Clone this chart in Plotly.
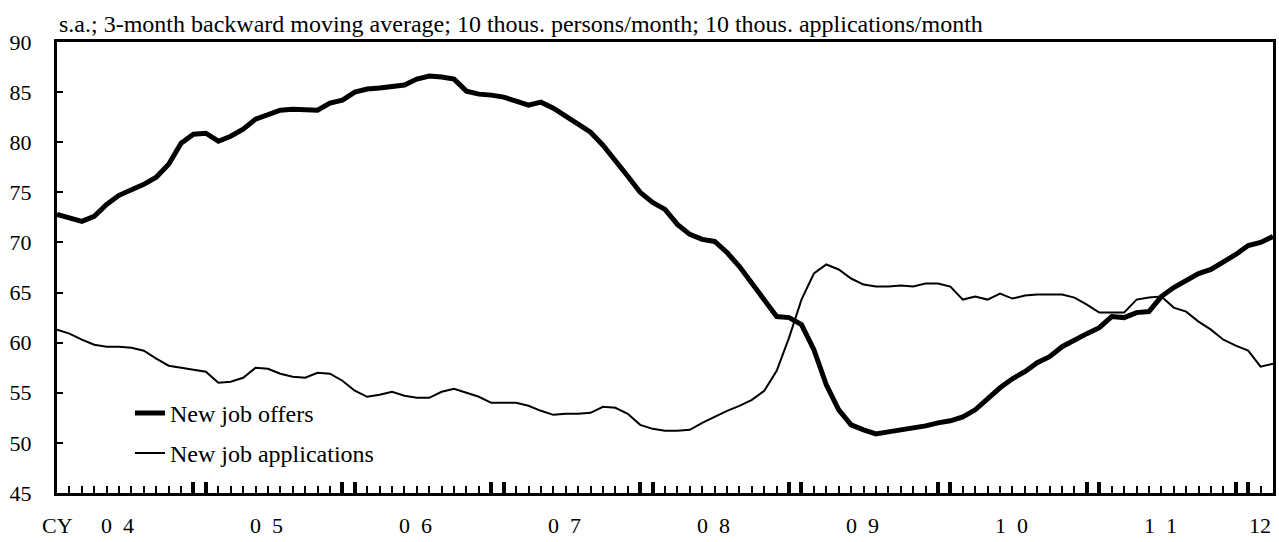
import plotly.graph_objects as go

# Monthly observations, Jan 2004 - Mar 2012 (s.a., 3-month backward moving average)
offers = [
    72.8, 72.4, 72.1, 72.6, 73.8, 74.7, 75.2, 75.8, 76.5, 77.8, 79.9, 80.8,   # 2004
    80.9, 80.1, 80.6, 81.3, 82.3, 82.8, 83.2, 83.3, 83.3, 83.2, 83.9, 84.2,   # 2005
    85.0, 85.3, 85.4, 85.6, 85.7, 86.3, 86.6, 86.5, 86.3, 85.1, 84.8, 84.7,   # 2006
    84.5, 84.1, 83.7, 84.0, 83.4, 82.6, 81.8, 81.0, 79.7, 78.2, 76.6, 75.0,   # 2007
    74.0, 73.3, 71.8, 70.8, 70.3, 70.1, 69.0, 67.6, 66.0, 64.4, 62.6, 62.5,   # 2008
    61.8, 59.3, 55.8, 53.3, 51.8, 51.3, 50.9, 51.1, 51.3, 51.4, 51.7, 52.0,   # 2009
    52.2, 52.6, 53.3, 54.4, 55.5, 56.4, 57.1, 58.0, 58.6, 59.6, 60.3, 60.9,   # 2010
    61.5, 62.6, 62.5, 63.0, 63.1, 64.6, 65.5, 66.2, 66.9, 67.3, 68.0, 68.8,   # 2011
    69.7, 70.0, 70.6,                                                         # 2012
]
applications = [
    61.3, 60.9, 60.3, 59.8, 59.6, 59.6, 59.5, 59.2, 58.4, 57.7, 57.5, 57.3,   # 2004
    57.1, 56.0, 56.1, 56.5, 57.5, 57.4, 56.9, 56.6, 56.5, 57.0, 56.9, 56.2,   # 2005
    55.2, 54.6, 54.8, 55.1, 54.7, 54.5, 54.5, 55.1, 55.4, 55.0, 54.6, 54.0,   # 2006
    54.0, 54.0, 53.7, 53.2, 52.8, 52.9, 52.9, 53.0, 53.6, 53.5, 52.9, 51.8,   # 2007
    51.4, 51.2, 51.2, 51.3, 52.0, 52.6, 53.2, 53.7, 54.3, 55.2, 57.2, 60.5,   # 2008
    64.3, 66.9, 67.8, 67.3, 66.4, 65.8, 65.6, 65.6, 65.7, 65.6, 65.9, 65.9,   # 2009
    65.6, 64.3, 64.6, 64.3, 64.9, 64.4, 64.7, 64.8, 64.8, 64.8, 64.5, 63.8,   # 2010
    63.0, 63.0, 63.0, 64.3, 64.5, 64.6, 63.5, 63.1, 62.1, 61.3, 60.3, 59.7,   # 2011
    59.2, 57.6, 57.9,                                                         # 2012
]
year_labels = ["0\u00a0\u00a04", "0\u00a0\u00a05", "0\u00a0\u00a06", "0\u00a0\u00a07",
               "0\u00a0\u00a08", "0\u00a0\u00a09", "1\u00a0\u00a00", "1\u00a0\u00a01"]
last_year_label = "12"
series_names = ["New job offers", "New job applications"]
units_note = ("s.a.; 3-month backward moving average; 10 thous. persons/month; "
              "10 thous. applications/month")

n = len(offers)
x = list(range(n))                     # month index, 0 = Jan 2004
jan_idx = list(range(0, n, 12))
dec_idx = list(range(11, n, 12))
year_marks = sorted(jan_idx + dec_idx)
month_marks = [i for i in x if i not in year_marks]

FONT = "Liberation Serif"

fig = go.Figure()
fig.add_trace(go.Scatter(x=x, y=offers, mode="lines", name=series_names[0],
                         line=dict(color="black", width=5), legendgroup="a"))
fig.add_trace(go.Scatter(x=x, y=applications, mode="lines", name=series_names[1],
                         line=dict(color="black", width=2), legendgroup="b"))

fig.update_xaxes(
    range=[0, n - 1], showgrid=False, zeroline=False,
    showline=True, linecolor="black", linewidth=3, mirror=True,
    ticks="inside", tickvals=year_marks, ticklen=11, tickwidth=4, tickcolor="black",
    showticklabels=False,
    minor=dict(tickvals=month_marks, ticks="inside", ticklen=7, tickwidth=2,
               tickcolor="black", showgrid=False),
)
fig.update_yaxes(
    range=[45, 90], dtick=5, tick0=45, showgrid=False, zeroline=False,
    showline=True, linecolor="black", linewidth=3, mirror=True,
    ticks="inside", ticklen=6, tickwidth=2, tickcolor="black",
    tickfont=dict(family=FONT, size=22, color="black"), ticklabelstandoff=18,
)

annotations = [dict(x=0, y=0, xref="x", yref="paper", yshift=-32, text="CY",
                    showarrow=False, yanchor="middle", xanchor="center")]
for k, lab in enumerate(year_labels):
    annotations.append(dict(x=4.9 + 12 * k, y=0, xref="x", yref="paper", yshift=-32,
                            text=lab, showarrow=False, yanchor="middle",
                            xanchor="center"))
annotations.append(dict(x=n - 1, y=0, xref="x", yref="paper", yshift=-32,
                        text=last_year_label, showarrow=False, yanchor="middle",
                        xanchor="right"))
for a in annotations:
    a["font"] = dict(family=FONT, size=22, color="black")
annotations.append(dict(x=0, y=1, xref="paper", yref="paper", yshift=3,
                        text=units_note, showarrow=False, xanchor="left",
                        yanchor="bottom",
                        font=dict(family=FONT, size=24, color="black")))

fig.update_layout(
    width=1279, height=542,
    margin=dict(l=57, r=3, t=42, b=49),
    paper_bgcolor="white", plot_bgcolor="white",
    font=dict(family=FONT, color="black"),
    showlegend=True,
    legend=dict(x=0.06, y=0.2266, xanchor="left", yanchor="top",
                bgcolor="rgba(0,0,0,0)", font=dict(family=FONT, size=24),
                traceorder="grouped", tracegroupgap=6),
    annotations=annotations,
)

fig.write_html("out.html")
